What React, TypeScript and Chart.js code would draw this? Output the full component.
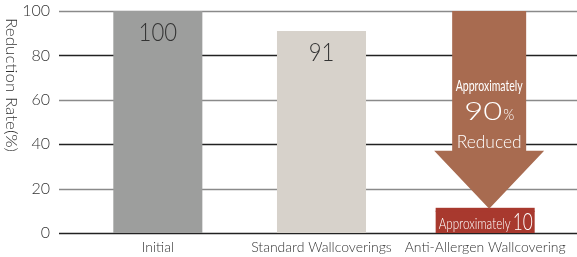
import React, { useEffect, useRef } from "react";
import { Chart, registerables } from "chart.js";

Chart.register(...registerables);

const categories = ["Initial", "Standard Wallcoverings", "Anti-Allergen Wallcovering"];
const baseValues = [100, 91, null];
const treatedValues = [null, null, 10];
const yTicks = [0, 20, 40, 60, 80, 100];
const yTitle = "Reduction Rate(%)";
const arrowLines = ["Approximately", "90", "%", "Reduced"];
const treatedLabel = ["Approximately", "10"];

const FONT = "Lato, 'Open Sans', sans-serif";
const W = "300";
const WW = "400";

function drawScaled(ctx: CanvasRenderingContext2D, text: string, x: number, y: number, sx: number) {
  ctx.save();
  ctx.translate(x, y);
  ctx.scale(sx, 1);
  ctx.fillText(text, 0, 0);
  ctx.restore();
}

function fitText(ctx: CanvasRenderingContext2D, text: string, x: number, y: number, targetW: number) {
  const w = ctx.measureText(text).width;
  const s = targetW / w;
  drawScaled(ctx, text, x, y, s);
  return targetW;
}

const gridPlugin = {
  id: "customGrid",
  beforeDatasetsDraw(chart: any) {
    const ctx = chart.ctx;
    const y = chart.scales.y;
    ctx.save();
    yTicks.forEach((v) => {
      const py = Math.round(y.getPixelForValue(v)) + 0.5;
      ctx.strokeStyle = v % 40 === 0 ? "#222222" : "#8a8a8a";
      ctx.lineWidth = 1.3;
      ctx.beginPath();
      ctx.moveTo(59, py);
      ctx.lineTo(chart.width, py);
      ctx.stroke();
    });
    ctx.translate(11, 85);
    ctx.rotate(Math.PI / 2);
    ctx.fillStyle = "#333";
    ctx.font = `${W} 16px ${FONT}`;
    ctx.textAlign = "left";
    ctx.textBaseline = "middle";
    fitText(ctx, yTitle, -67, 0, 134);
    ctx.restore();
  },
  afterDatasetsDraw(chart: any) {
    const ctx = chart.ctx;
    const y = chart.scales.y;
    const m0 = chart.getDatasetMeta(0);
    const m1 = chart.getDatasetMeta(1);
    ctx.save();
    ctx.fillStyle = "#333";
    ctx.font = `${W} 26px ${FONT}`;
    ctx.textAlign = "center";
    ctx.textBaseline = "middle";
    [0, 1].forEach((i) => {
      const el = m0.data[i];
      if (baseValues[i] != null) drawScaled(ctx, String(baseValues[i]), el.x, el.y + 22, 0.85);
    });

    const bar = m1.data[2];
    ctx.fillStyle = "#a8392e";
    ctx.fillRect(bar.x - bar.width / 2, bar.y - 3, bar.width, 4);

    const cx = bar.x + 4;
    const top = y.getPixelForValue(100);
    const tip = bar.y - 2;
    const headBase = tip - 58;
    ctx.fillStyle = "#a86b50";
    ctx.beginPath();
    ctx.moveTo(cx - 37, top);
    ctx.lineTo(cx + 37, top);
    ctx.lineTo(cx + 37, headBase);
    ctx.lineTo(cx + 55, headBase);
    ctx.lineTo(cx, tip);
    ctx.lineTo(cx - 55, headBase);
    ctx.lineTo(cx - 37, headBase);
    ctx.closePath();
    ctx.fill();

    ctx.fillStyle = "#ffffff";
    ctx.textBaseline = "alphabetic";
    ctx.textAlign = "left";
    ctx.font = `${WW} 15px ${FONT}`;
    fitText(ctx, arrowLines[0], cx - 33.5, 91, 67);
    ctx.font = `${W} 26px ${FONT}`;
    const w90 = 38;
    const wp = 11;
    const sx = cx - (w90 + wp + 1) / 2;
    fitText(ctx, arrowLines[1], sx, 120, w90);
    ctx.font = `${W} 15px ${FONT}`;
    fitText(ctx, arrowLines[2], sx + w90 + 1, 120, wp);
    ctx.font = `${W} 18px ${FONT}`;
    fitText(ctx, arrowLines[3], cx - 32.5, 148, 65);

    const bl = bar.base - 4;
    const left = bar.x - bar.width / 2 + 3;
    ctx.font = `${W} 15px ${FONT}`;
    fitText(ctx, treatedLabel[0], left, bl, 72);
    ctx.font = `${W} 23px ${FONT}`;
    fitText(ctx, treatedLabel[1], left + 74, bl + 1, 20);
    ctx.restore();
  },
};

export default function App() {
  const ref = useRef<HTMLCanvasElement>(null);
  useEffect(() => {
    document.body.style.margin = "0";
    const chart = new Chart(ref.current!, {
      type: "bar",
      data: {
        labels: categories,
        datasets: [
          {
            data: baseValues,
            backgroundColor: ["#9d9e9d", "#d7d2cb", "#d7d2cb"],
            categoryPercentage: 1,
            barPercentage: 0.544,
            grouped: false,
          } as any,
          {
            data: treatedValues,
            backgroundColor: "#a8392e",
            categoryPercentage: 1,
            barPercentage: 0.605,
            grouped: false,
          } as any,
        ],
      },
      options: {
        animation: false,
        responsive: false,
        maintainAspectRatio: false,
        layout: { padding: { top: 11, right: 10, left: 0, bottom: 0 } },
        plugins: { legend: { display: false }, tooltip: { enabled: false } },
        scales: {
          x: {
            grid: { display: false, drawTicks: false },
            border: { display: false },
            ticks: {
              color: "#333",
              font: { family: FONT, size: 14, weight: W },
              padding: 6,
              maxRotation: 0,
              autoSkip: false,
            },
            afterFit: (s: any) => {
              s.height = 24;
            },
          },
          y: {
            min: 0,
            max: 100,
            grid: { display: false, drawTicks: true, tickLength: 26 },
            border: { display: false },
            ticks: { stepSize: 20, color: "#333", font: { family: FONT, size: 16, weight: W }, padding: 0 },
            afterFit: (s: any) => {
              s.width = 76;
            },
          },
        },
      },
      plugins: [gridPlugin],
    });
    return () => chart.destroy();
  }, []);
  return (
    <div style={{ width: 577, height: 257 }}>
      <canvas ref={ref} width={577} height={257} />
    </div>
  );
}
